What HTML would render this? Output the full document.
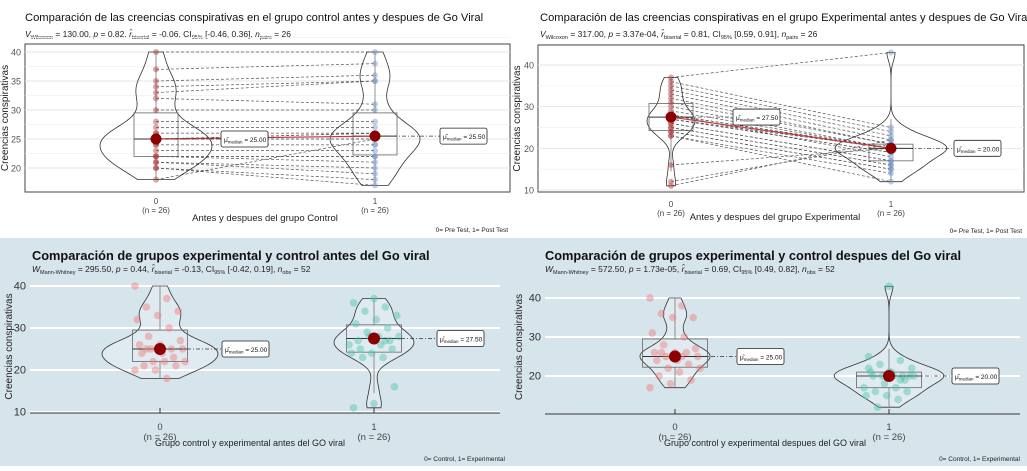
<!DOCTYPE html>
<html><head><meta charset="utf-8">
<style>
html,body{margin:0;padding:0;background:#fff;}
body{width:1027px;height:466px;overflow:hidden;font-family:"Liberation Sans",sans-serif;}
svg text{font-family:"Liberation Sans",sans-serif;}
</style></head>
<body>
<svg id="chart" width="1027" height="466" viewBox="0 0 1027 466" xmlns="http://www.w3.org/2000/svg">
<rect x="0" y="238" width="1027" height="228" fill="#d6e4ec"/>
<g id="p1"></g>
<g id="p2"></g>
<g id="p3"></g>
<g id="p4"></g>
</svg>
<script>
// ---- data ----
const controlPre  = [40,37,35,34,33,32,30,28,27,26,26,25,25,25,24,24,23,22,22,22,21,21,20,20,18,25];
const controlPost = [40,38,36,35,35,31,30,28,27,26,26,26,25,25,24,24,23,22,22,21,20,19,18,17,25,26];
const expPre      = [37,36,35,34,33,32,31,30,29,28,28,27,27,28,26,26,25,25,24,24,23,23,16,12,11,27];
const expPost     = [43,25,24,23,22,21,21,20,20,20,20,20,19,18,17,17,16,16,15,15,14,12,20,21,22,19];
const groupLabels = ["0","1"];
const medians1 = [25.00, 25.50];
const medians2 = [27.50, 20.00];
const medians3 = [25.00, 27.50];
const medians4 = [25.00, 20.00];
const yTicks1 = [20,25,30,35,40];
const yTicks2 = [10,20,30,40];
const yTicks3 = [10,20,30,40];
const yTicks4 = [20,30,40];

const NS="http://www.w3.org/2000/svg";
function mk(parent, tag, attrs, name, txt){
  const e=document.createElementNS(NS,tag);
  for(const k in attrs) e.setAttribute(k,attrs[k]);
  
  
  if(txt!==undefined) e.textContent=txt;
  parent.appendChild(e); return e;
}
function quant(a,q){const s=[...a].sort((x,y)=>x-y);const p=(s.length-1)*q;const i=Math.floor(p);return s[i]+(s[Math.min(i+1,s.length-1)]-s[i])*(p-i);}
function violinPath(vals, cx, ys, maxW, bw){
  const mn=Math.min(...vals), mx=Math.max(...vals);
  const pts=[]; const N=50;
  for(let i=0;i<=N;i++){const v=mn+(mx-mn)*i/N;let d=0;for(const x of vals)d+=Math.exp(-0.5*((v-x)/bw)**2);pts.push([v,d]);}
  const dm=Math.max(...pts.map(p=>p[1]));
  let s=""; pts.forEach((p,i)=>{s+=(i?"L":"M")+(cx+p[1]/dm*maxW)+","+ys(p[0]);});
  for(let i=pts.length-1;i>=0;i--){s+="L"+(cx-pts[i][1]/dm*maxW)+","+ys(pts[i][0]);}
  return s+"Z";
}
function panel(cfg){
  const g=document.getElementById(cfg.id);
  const ys=v=>cfg.y0+(v-cfg.v0)*(cfg.y1-cfg.y0)/(cfg.v1-cfg.v0);
  const xs=i=>cfg.gx[i];
  mk(g,'text',{x:cfg.tx,y:cfg.ty,'font-size':cfg.bold?12.8:11.2,'font-weight':cfg.bold?'bold':'normal',fill:'#111'},'chart-title',cfg.title);
  const st=mk(g,'text',{x:cfg.tx,y:cfg.sy,'font-size':8.5,fill:'#222'},'chart-subtitle','');
  st.innerHTML=cfg.sub;
  if(!cfg.bold){
    mk(g,'rect',{x:cfg.px0,y:cfg.py0,width:cfg.px1-cfg.px0,height:cfg.py1-cfg.py0,fill:'#fff',stroke:'#444','stroke-width':1},'plot-area');
  }
  cfg.ticks.forEach(t=>{
    mk(g,'line',{x1:cfg.px0,x2:cfg.px1,y1:ys(t),y2:ys(t),stroke:cfg.bold?'#fff':'#e6e6e6','stroke-width':cfg.bold?2:1},'y-gridline');
    if(!cfg.bold){mk(g,'line',{x1:cfg.px0,x2:cfg.px1,y1:ys(t+cfg.minor),y2:ys(t+cfg.minor),stroke:'#f0f0f0','stroke-width':0.7},'y-minor-gridline');}
    mk(g,'text',{x:cfg.px0-4,y:ys(t)+3.5,'font-size':cfg.bold?11:9,'text-anchor':'end',fill:cfg.bold?'#333':'#555'},'y-tick-label',t);
  });
  if(cfg.bold){mk(g,'line',{x1:cfg.px0,x2:cfg.px1,y1:cfg.py1,y2:cfg.py1,stroke:'#333','stroke-width':1},'x-axis-line');}
  mk(g,'text',{x:cfg.ylx,y:(cfg.py0+cfg.py1)/2,'font-size':10,'text-anchor':'middle',fill:'#222',transform:`rotate(-90 ${cfg.ylx} ${(cfg.py0+cfg.py1)/2})`},'y-axis-title','Creencias conspirativas');
  if(cfg.paired){
    cfg.data[0].forEach((v,i)=>{
      mk(g,'line',{x1:xs(0),y1:ys(v),x2:xs(1),y2:ys(cfg.data[1][i]),stroke:'#555','stroke-width':0.7,'stroke-dasharray':'3,2'},'pair-line');
    });
  }
  cfg.data.forEach((vals,gi)=>{
    const cx=xs(gi);
    mk(g,'path',{d:violinPath(vals,cx,ys,cfg.vw[gi],cfg.bw),fill:cfg.bold?'rgba(255,255,255,0.25)':'none',stroke:'#333','stroke-width':0.8},'violin-'+gi);
    const q1=quant(vals,0.25),q3=quant(vals,0.75),md=cfg.med[gi];
    const bw=cfg.boxW;
    const iqr=q3-q1;const lo=Math.max(Math.min(...vals),q1-1.5*iqr),hi=Math.min(Math.max(...vals),q3+1.5*iqr);
    mk(g,'line',{x1:cx,x2:cx,y1:ys(hi),y2:ys(q3),stroke:'#777','stroke-width':0.8},'whisker-upper');
    mk(g,'line',{x1:cx,x2:cx,y1:ys(lo),y2:ys(q1),stroke:'#777','stroke-width':0.8},'whisker-lower');
    mk(g,'rect',{x:cx-bw/2,y:ys(q3),width:bw,height:ys(q1)-ys(q3),fill:'none',stroke:'#666','stroke-width':0.8},'box-'+gi);
    mk(g,'line',{x1:cx-bw/2,x2:cx+bw/2,y1:ys(md),y2:ys(md),stroke:'#333','stroke-width':1},'box-median-'+gi);
    vals.forEach((v,i)=>{
      const jit=cfg.jitter?((((i*37+gi*11)%23)/22)-0.5)*cfg.jitter:0;
      mk(g,'circle',{cx:cx+jit,cy:ys(v),r:cfg.pr,fill:cfg.cols[gi],'fill-opacity':0.45},'data-point');
    });
  });
  if(cfg.paired){mk(g,'line',{x1:xs(0),y1:ys(cfg.med[0]),x2:xs(1),y2:ys(cfg.med[1]),stroke:'#c0393b','stroke-width':1.2},'median-line');}
  cfg.med.forEach((m,gi)=>{
    const cx=xs(gi),cy=ys(m);const lx=cx+cfg.lblOff[gi];
    mk(g,'line',{x1:cx,y1:cy,x2:lx,y2:cy,stroke:'#333','stroke-width':0.7,'stroke-dasharray':'4,2,1,2'},'median-label-connector');
    mk(g,'circle',{cx:cx,cy:cy,r:cfg.bold?6:5.5,fill:'#8b0000'},'median-point-'+gi);
    mk(g,'rect',{x:lx,y:cy-8,width:47,height:16,rx:2,fill:'#fff',stroke:'#222','stroke-width':0.8},'median-label-box');
    const t=mk(g,'text',{x:lx+3,y:cy+3,'font-size':6.5,fill:'#111'},'median-label','');
    t.innerHTML='μ̂<tspan font-size="4.5" dy="1.5">median</tspan><tspan dy="-1.5"> = '+m.toFixed(2)+'</tspan>';
  });
  groupLabels.forEach((lb,gi)=>{
    mk(g,'text',{x:xs(gi),y:cfg.xty,'font-size':cfg.bold?9.5:8,'text-anchor':'middle',fill:'#444'},'x-tick-label',lb);
    mk(g,'text',{x:xs(gi),y:cfg.xty+(cfg.bold?10:9),'font-size':cfg.bold?9.5:8,'text-anchor':'middle',fill:'#444'},'x-tick-n','(n = 26)');
    if(cfg.bold) mk(g,'line',{x1:xs(gi),x2:xs(gi),y1:cfg.py1,y2:cfg.py1-5,stroke:'#333'},'x-tick');
  });
  mk(g,'text',{x:cfg.xtx,y:cfg.xtiy,'font-size':cfg.bold?9:9.5,'text-anchor':'middle',fill:'#222'},'x-axis-title',cfg.xtitle);
  mk(g,'text',{x:cfg.capx,y:cfg.capy,'font-size':6.5,'text-anchor':'end',fill:'#222'},'caption',cfg.caption);
}
const sub=(a,b,c,d,e,f,g)=>`<tspan font-style="italic">${a}</tspan><tspan font-size="5.5" dy="2">${b}</tspan><tspan dy="-2"> = ${c}, </tspan><tspan font-style="italic">p</tspan> = ${d}, <tspan font-style="italic">r̂</tspan><tspan font-size="5.5" dy="2">biserial</tspan><tspan dy="-2"> = ${e}, CI</tspan><tspan font-size="5.5" dy="2">95%</tspan><tspan dy="-2"> ${f}, </tspan><tspan font-style="italic">n</tspan><tspan font-size="5.5" dy="2">${g}</tspan><tspan dy="-2"> = </tspan>`;
const red='#b03a3a',blue='#7092c8',pink='#f07a7a',teal='#4fc4ae';
panel({id:'p1',title:'Comparación de las creencias conspirativas en el grupo control antes y despues de Go Viral',
 sub:sub('V','Wilcoxon','130.00','0.82','-0.06','[-0.46, 0.36]','pairs')+'26',
 tx:25,ty:21,sy:37,px0:25,px1:510,py0:44,py1:192,v0:40,y0:52,v1:20,y1:168,ticks:yTicks1,minor:2.5,ylx:8,
 gx:[156,375],data:[controlPre,controlPost],med:medians1,vw:[56,45],bw:2.2,boxW:44,pr:3,cols:[red,blue],paired:true,
 lblOff:[65,65],xty:204,xtx:265,xtiy:221,xtitle:'Antes y despues del grupo Control',capx:508,capy:232,caption:'0= Pre Test, 1= Post Test'});
panel({id:'p2',title:'Comparación de las creencias conspirativas en el grupo Experimental antes y despues de Go Viral',
 sub:sub('V','Wilcoxon','317.00','3.37e-04','0.81','[0.59, 0.91]','pairs')+'26',
 tx:540,ty:21,sy:37,px0:538,px1:1024,py0:45,py1:192,v0:40,y0:65,v1:10,y1:190,ticks:yTicks2,minor:5,ylx:520,
 gx:[671,891],data:[expPre,expPost],med:medians2,vw:[24,56],bw:2,boxW:44,pr:3,cols:[red,blue],paired:true,
 lblOff:[62,63],xty:207,xtx:775,xtiy:220,xtitle:'Antes y despues del grupo Experimental',capx:1022,capy:233,caption:'0= Pre Test, 1= Post Test'});
panel({id:'p3',title:'Comparación de grupos experimental y control antes del Go viral',bold:true,
 sub:sub('W','Mann-Whitney','295.50','0.44','-0.13','[-0.42, 0.19]','obs')+'52',
 tx:32,ty:260,sy:272,px0:30,px1:500,py0:280,py1:413,v0:40,y0:286,v1:10,y1:412,ticks:yTicks3,ylx:12,
 gx:[160,374],data:[controlPre,expPre],med:medians3,vw:[58,40],bw:2.2,boxW:55,pr:3.8,cols:[pink,teal],jitter:50,
 lblOff:[62,63],xty:430,xtx:250,xtiy:446,xtitle:'Grupo control y experimental antes del GO viral',capx:505,capy:461,caption:'0= Control, 1= Experimental'});
panel({id:'p4',title:'Comparación de grupos experimental y control despues del Go viral',bold:true,
 sub:sub('W','Mann-Whitney','572.50','1.73e-05','0.69','[0.49, 0.82]','obs')+'52',
 tx:545,ty:260,sy:272,px0:545,px1:1020,py0:280,py1:414,v0:40,y0:298,v1:20,y1:376,ticks:yTicks4,ylx:522,
 gx:[675,889],data:[controlPost,expPost],med:medians4,vw:[35,55],bw:2,boxW:65,pr:3.8,cols:[pink,teal],jitter:50,
 lblOff:[62,63],xty:430,xtx:765,xtiy:446,xtitle:'Grupo control y experimental despues del GO viral',capx:1020,capy:461,caption:'0= Control, 1= Experimental'});
</script>
</body></html>
